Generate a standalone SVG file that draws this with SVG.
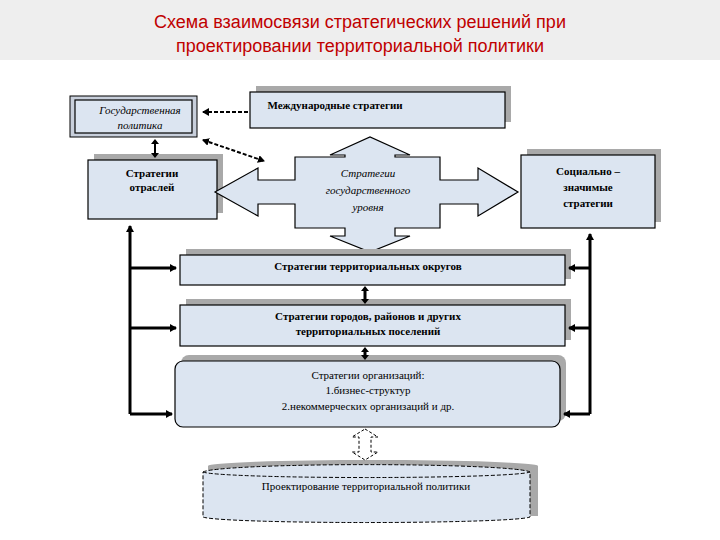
<svg xmlns="http://www.w3.org/2000/svg" width="720" height="540" viewBox="0 0 720 540">
<defs>
<style>
.box{fill:#dce5f1;stroke:#000;stroke-width:1.2}
.sh{fill:#a9a9a9}
.t{font-family:"Liberation Serif",serif;font-size:11px;text-anchor:middle;fill:#000}
.b{font-weight:bold}
.i{font-style:italic}
.ln{stroke:#000;stroke-width:3;fill:none}
.dl{stroke:#000;stroke-width:2;fill:none;stroke-dasharray:4 2}
.dbl{fill:#000;stroke:none}
</style>
<marker id="ah" markerWidth="8" markerHeight="8" refX="6" refY="4" orient="auto" markerUnits="userSpaceOnUse"><path d="M0,0 L7,4 L0,8 Z" fill="#000"/></marker>
<marker id="as" markerWidth="8" markerHeight="8" refX="2" refY="4" orient="auto" markerUnits="userSpaceOnUse"><path d="M8,0 L1,4 L8,8 Z" fill="#000"/></marker>
</defs>
<rect x="0" y="0" width="720" height="60" fill="#eeeeee"/>
<text x="360" y="28" font-family="Liberation Sans,sans-serif" font-size="18" fill="#c00000" text-anchor="middle">Схема взаимосвязи стратегических решений при</text>
<text x="360" y="52" font-family="Liberation Sans,sans-serif" font-size="18" fill="#c00000" text-anchor="middle">проектировании территориальной политики</text>

<g id="gos">
<rect x="70" y="96" width="127" height="41" fill="#c8cfdb" stroke="#000"/>
<rect x="75" y="100" width="117" height="33" class="box"/>
<text class="t i" x="140" y="114">Государственная</text>
<text class="t i" x="140" y="129">политика</text>
</g>
<g id="intl">
<rect class="sh" x="256" y="86" width="255" height="36"/>
<rect class="box" x="250" y="92" width="255" height="36" stroke-width="2"/>
<text class="t b" x="335" y="109">Международные  стратегии</text>
</g>
<g id="otr">
<rect class="sh" x="94" y="154" width="129" height="59"/>
<rect class="box" x="88" y="160" width="129" height="59"/>
<text class="t b" x="152" y="177">Стратегии</text>
<text class="t b" x="152" y="191">отраслей</text>
</g>
<g id="gosurov">
<path d="M345,157 L345,155 L330,155 L370,137 L410,155 L395,155 L395,157 L440,157 L440,180 L478,180 L478,168 L518,192 L478,216 L478,204 L440,204 L440,228 L395,228 L395,236 L410,236 L370,252 L330,236 L345,236 L345,228 L295,228 L295,204 L258,204 L258,216 L215,192 L258,168 L258,180 L295,180 L295,157 Z" class="box" stroke-width="3"/>
<text class="t i" x="368" y="177" font-size="12">Стратегии</text>
<text class="t i" x="368" y="194" font-size="12">государственного</text>
<text class="t i" x="368" y="211" font-size="12">уровня</text>
</g>
<g id="soc">
<rect class="sh" x="527" y="149" width="134" height="73"/>
<rect class="box" x="521" y="155" width="134" height="73"/>
<text class="t b" x="588" y="175">Социально –</text>
<text class="t b" x="588" y="191">значимые</text>
<text class="t b" x="588" y="207">стратегии</text>
</g>
<g id="okr">
<rect class="sh" x="186" y="249" width="385" height="30"/>
<rect class="box" x="180" y="255" width="385" height="30"/>
<text class="t b" x="368" y="270">Стратегии  территориальных округов</text>
</g>
<g id="gor">
<rect class="sh" x="186" y="299" width="385" height="41"/>
<rect class="box" x="180" y="305" width="385" height="41"/>
<text class="t b" x="368" y="320">Стратегии городов, районов и  других</text>
<text class="t b" x="368" y="335">территориальных поселений</text>
</g>
<g id="org">
<rect class="sh" x="181" y="355" width="385" height="66" rx="8"/>
<rect class="box" x="175" y="361" width="385" height="66" rx="8"/>
<text class="t" x="368" y="379">Стратегии организаций:</text>
<text class="t" x="368" y="394">1.бизнес-структур</text>
<text class="t" x="368" y="410">2.некоммерческих организаций и др.</text>
</g>
<g id="proj">
<ellipse class="sh" cx="373" cy="466" rx="165" ry="6"/>
<rect class="sh" x="208" y="466" width="330" height="50"/>
<path d="M203,472 A164,8 0 0 1 530,472 L530,517 A164,6 0 0 1 203,517 Z" fill="#dce5f1" stroke="#000" stroke-dasharray="4 2"/>
<path d="M203,472 A164,6 0 0 0 530,472" fill="none" stroke="#000" stroke-dasharray="4 2"/>
<text class="t" x="366" y="490">Проектирование территориальной политики</text>
</g>

<g id="connectors">
<line class="ln" x1="130" y1="414" x2="130" y2="226" marker-end="url(#ah)"/>
<line class="ln" x1="130" y1="268" x2="176" y2="268" marker-end="url(#ah)"/>
<line class="ln" x1="130" y1="328" x2="176" y2="328" marker-end="url(#ah)"/>
<line class="ln" x1="130" y1="414" x2="172" y2="414" marker-end="url(#ah)"/>
<line class="ln" x1="590" y1="414" x2="590" y2="234" marker-end="url(#ah)"/>
<line class="ln" x1="590" y1="268" x2="569" y2="268" marker-end="url(#ah)"/>
<line class="ln" x1="590" y1="328" x2="569" y2="328" marker-end="url(#ah)"/>
<line class="ln" x1="590" y1="414" x2="564" y2="414" marker-end="url(#ah)"/>
<path class="dbl" d="M365,286 L369,291 L366.5,291 L366.5,299 L369,299 L365,304 L361,299 L363.5,299 L363.5,291 L361,291 Z"/>
<path class="dbl" d="M365,347 L369,352 L366.5,352 L366.5,355 L369,355 L365,360 L361,355 L363.5,355 L363.5,352 L361,352 Z"/>
<path class="dbl" d="M155,139 L159,144 L156,144 L156,153 L159,153 L155,158 L151,153 L154,153 L154,144 L151,144 Z"/>
<line class="dl" x1="248" y1="112" x2="203" y2="112" marker-end="url(#ah)"/>
<line class="dl" x1="203" y1="140" x2="264" y2="161" marker-start="url(#as)" marker-end="url(#ah)"/>
<path d="M365,429 L378,437 L371,437 L371,452 L378,452 L365,460 L352,452 L359,452 L359,437 L352,437 Z" fill="#fff" stroke="#000" stroke-width="1" stroke-dasharray="3 2"/>
</g>
</svg>
